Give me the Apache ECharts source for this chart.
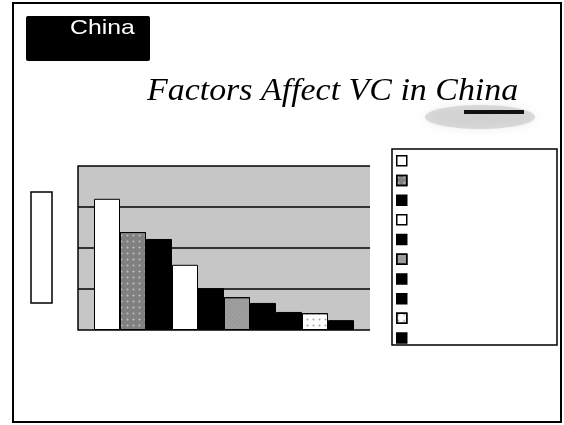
<!DOCTYPE html>
<html>
<head>
<meta charset="utf-8">
<script src="https://cdn.jsdelivr.net/npm/echarts@6/dist/echarts.min.js"></script>
<style>
  html, body { margin: 0; padding: 0; background: #fff; }
  #container_bar { width: 564px; height: 425px; }
</style>
</head>
<body>
<div id="container_bar"></div>
<script>
// factor names are not legible in the scan, kept as placeholders
const factorNames = ['Factor 1', 'Factor 2', 'Factor 3', 'Factor 4', 'Factor 5',
    'Factor 6', 'Factor 7', 'Factor 8', 'Factor 9', 'Factor 10'];
const factorValues = [3.2, 2.39, 2.22, 1.59, 1.02, 0.8, 0.66, 0.44, 0.41, 0.24];
const categories = ['China'];
const yTicks = [0, 1, 2, 3, 4];

const dots = (c) => ({ symbol: 'circle', symbolSize: 0.7, color: c, dashArrayX: 3, dashArrayY: 3 });
const cross = (c) => ({ symbol: 'rect', symbolSize: 0.6, color: c, dashArrayX: [1, 2], dashArrayY: [1, 2], rotation: Math.PI / 4 });

// fill per factor: white, stippled gray, black ...
const fills = [
    { color: '#fff' },
    { color: '#808080', decal: dots('rgba(255,255,255,0.5)') },
    { color: '#000' },
    { color: '#fff' },
    { color: '#000' },
    { color: '#9a9a9a', decal: cross('rgba(255,255,255,0.7)') },
    { color: '#000' },
    { color: '#000' },
    { color: '#fff', decal: dots('rgba(0,0,0,0.35)') },
    { color: '#000' }
];

function drawBarChart() {
    const myChart = echarts.init(document.getElementById('container_bar'), null, {
        renderer: 'canvas'
    });

    const series = factorNames.map((name, i) => ({
        name: name,
        type: 'bar',
        barWidth: 26,
        barGap: '0%',
        data: [factorValues[i]],
        itemStyle: {
            color: fills[i].color,
            decal: fills[i].decal,
            borderColor: '#000',
            borderWidth: 1
        },
        emphasis: { disabled: true }
    }));

    const option = {
        animation: false,
        grid: {
            left: 78,
            top: 166,
            width: 292,
            height: 164,
            show: true,
            backgroundColor: '#c6c6c6',
            borderWidth: 0
        },
        xAxis: {
            type: 'category',
            data: categories,
            axisLine: { show: false },
            axisTick: { show: false },
            axisLabel: { show: false }
        },
        yAxis: {
            type: 'value',
            min: yTicks[0],
            max: yTicks[yTicks.length - 1],
            interval: 1,
            axisLine: { show: true, lineStyle: { color: '#000', width: 1.5 } },
            axisTick: { show: false },
            axisLabel: { show: false },
            splitLine: { lineStyle: { color: '#000', width: 1.5 } }
        },
        legend: {
            orient: 'vertical',
            left: 396,
            top: 155,
            itemWidth: 10,
            itemHeight: 10,
            itemGap: 8.2,
            padding: 0,
            icon: 'rect',
            selectedMode: false,
            formatter: () => '',
            textStyle: { fontSize: 8 },
            itemStyle: { borderColor: '#000', borderWidth: 1.5 },
            data: factorNames
        },
        graphic: [
            // slide frame
            { type: 'rect', shape: { x: 13, y: 3, width: 548, height: 419 },
              style: { fill: 'none', stroke: '#000', lineWidth: 2 }, silent: true },
            // header tab
            { type: 'rect', shape: { x: 26, y: 16, width: 124, height: 45, r: 2 },
              style: { fill: '#000' }, silent: true },
            { type: 'text', left: 70, top: 18,
              style: { text: 'China', fill: '#fff', font: '21px "Liberation Sans", Arial, sans-serif' },
              scaleX: 1.18, silent: true },
            // smudge under the title
            { type: 'ellipse', shape: { cx: 480, cy: 117, rx: 55, ry: 12 },
              style: { fill: 'rgba(150,150,150,0.3)', shadowBlur: 10, shadowColor: 'rgba(150,150,150,0.6)' }, silent: true },
            { type: 'rect', shape: { x: 464, y: 110, width: 60, height: 4 },
              style: { fill: '#111' }, silent: true },
            { type: 'text', left: 147, top: 76,
              style: { text: 'Factors Affect VC in China', fill: '#000',
                       font: 'italic 32px "Liberation Serif", "Times New Roman", serif' },
              scaleX: 1.06, silent: true },
            // empty axis-title box
            { type: 'rect', shape: { x: 31, y: 192, width: 21, height: 111 },
              style: { fill: '#fff', stroke: '#000', lineWidth: 1.5 }, silent: true },
            // legend frame
            { type: 'rect', shape: { x: 392, y: 149, width: 165, height: 196 },
              style: { fill: 'none', stroke: '#000', lineWidth: 1.5 }, silent: true, z: 0 }
        ],
        series: series
    };
    myChart.setOption(option);
}

drawBarChart();
</script>
</body>
</html>
